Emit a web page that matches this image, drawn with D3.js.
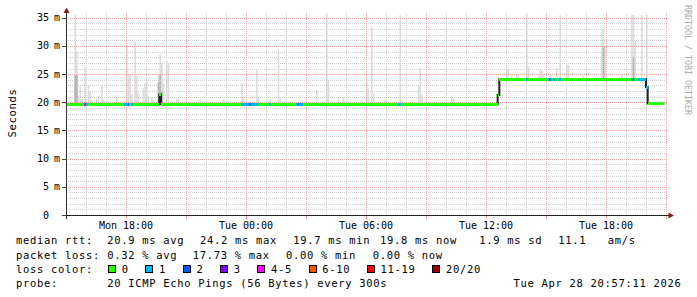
<!DOCTYPE html>
<html>
<head>
<meta charset="utf-8">
<script src="https://cdn.jsdelivr.net/npm/d3@7"></script>
<style>
  body { margin: 0; background: #fff; }
  svg { display: block; font-family: 'DejaVu Sans Mono', monospace; }
  .legend { font-size: 10.5px; letter-spacing: 0.68px; fill: #000; }
  .tick { font-size: 10px; fill: #000; }
</style>
</head>
<body>
<svg id="chart" width="697" height="297"></svg>
<script>
const parseTime = d3.timeParse('%Y-%m-%d %H:%M')
const at = s => parseTime('2026-04-' + s)

// time window of the graph and of the samples (5 minute steps)
const graphStart = '27 15:00'
const graphEnd = '28 21:00'
const firstSample = '27 15:00'
const lastSample = '28 20:50'

// median rtt in ms, as change points (value holds until next time)
const medianTimes = ['27 15:00', '27 19:40', '27 19:45', '28 12:35', '28 12:40', '28 20:00', '28 20:05']
const medianValues = [19.7, 21.4, 19.7, 21.3, 24.1, 22.7, 19.8]

// lost pings (of 20), as change points
const lossTimes = ['27 15:00', '27 15:55', '27 16:00', '27 16:05', '27 17:55', '27 18:05', '27 18:10',
  '27 18:15', '27 18:20', '27 23:45', '28 00:10', '28 00:15', '28 00:35', '28 01:10', '28 01:15',
  '28 02:30', '28 02:35', '28 02:40', '28 02:50', '28 07:35', '28 07:45', '28 14:00', '28 14:05',
  '28 15:05', '28 15:10', '28 15:15', '28 15:20', '28 15:30', '28 15:35', '28 15:45', '28 19:15',
  '28 19:20', '28 19:25', '28 19:35', '28 20:05']
const lossCounts = [0, 4, 1, 0, 1, 2, 0,
  1, 0, 1, 2, 1, 0, 1, 0,
  1, 2, 1, 0, 1, 0, 1, 0,
  1, 2, 0, 1, 0, 1, 0, 1,
  2, 0, 1, 0]

// smoke: slowest ping and second band (0 = none) for the steps that show any
const smokeTimes = ['27 15:25', '27 15:30', '27 15:35', '27 15:40', '27 15:45', '27 15:55', '27 16:05',
  '27 16:10', '27 16:15', '27 16:30', '27 16:35', '27 16:45', '27 16:50', '27 17:30', '27 18:00',
  '27 18:05', '27 18:10', '27 18:15', '27 18:25', '27 18:30', '27 18:35', '27 18:50', '27 18:55',
  '27 19:00', '27 19:05', '27 19:15', '27 19:20', '27 19:35', '27 19:40', '27 19:45', '27 19:50',
  '27 20:00', '27 20:05', '27 20:30', '27 20:35', '27 21:40', '27 22:50', '27 23:45', '27 23:50',
  '28 00:30', '28 00:35', '28 01:10', '28 01:35', '28 01:40', '28 03:30', '28 04:00', '28 04:05',
  '28 04:35', '28 04:50', '28 05:45', '28 06:00', '28 06:05', '28 06:15', '28 06:20', '28 06:55',
  '28 07:40', '28 07:45', '28 08:35', '28 08:40', '28 08:45', '28 10:15', '28 10:20', '28 13:00',
  '28 13:05', '28 13:15', '28 13:30', '28 13:35', '28 14:00', '28 14:05', '28 14:35', '28 14:40',
  '28 14:45', '28 14:50', '28 15:10', '28 15:30', '28 15:40', '28 16:00', '28 16:05', '28 16:50',
  '28 17:45', '28 17:50', '28 17:55', '28 18:45', '28 19:15', '28 19:20', '28 19:25', '28 19:45',
  '28 20:00', '28 20:05']
const smokeMax = [35.6, 29.0, 21.2, 22.8, 20.6, 26.2, 23.1,
  21.8, 20.4, 20.6, 21.1, 23.1, 20.5, 21.0, 30.2,
  25.0, 24.9, 21.5, 30.8, 24.7, 21.8, 22.6, 23.4,
  24.0, 21.1, 20.9, 20.5, 24.9, 28.5, 27.0, 23.5,
  27.3, 27.0, 20.6, 21.0, 20.5, 20.6, 23.4, 21.0,
  25.6, 21.0, 20.5, 29.4, 21.0, 22.3, 35.7, 24.0,
  21.0, 21.0, 20.5, 24.3, 22.5, 33.4, 21.7, 20.5,
  35.6, 20.4, 22.9, 26.1, 21.5, 21.0, 20.6, 25.9,
  25.9, 24.9, 24.9, 24.7, 35.7, 26.3, 24.7, 25.8,
  25.6, 25.0, 24.9, 26.1, 35.7, 26.7, 26.6, 24.8,
  32.9, 33.0, 29.8, 25.0, 35.6, 35.6, 31.0, 35.6,
  35.6, 21.0]
const smokeMid = [24.8, 24.8, 0, 0, 0, 0, 0,
  0, 0, 0, 0, 0, 0, 0, 0,
  0, 0, 0, 0, 0, 0, 0, 0,
  0, 0, 0, 0, 23.5, 24.9, 22.0, 0,
  0, 0, 0, 0, 0, 0, 0, 0,
  0, 0, 0, 0, 0, 0, 0, 0,
  0, 0, 0, 0, 0, 0, 0, 0,
  0, 0, 0, 0, 0, 0, 0, 0,
  0, 0, 0, 0, 0, 0, 0, 0,
  0, 0, 0, 0, 0, 0, 0, 0,
  0, 29.9, 0, 0, 0, 28.0, 0, 0,
  0, 0]

const lossLabels = ['0', '1', '2', '3', '4-5', '6-10', '11-19', '20/20']
const lossLimits = [0, 1, 2, 3, 5, 10, 19, 20]
const lossColors = ['#26ff00', '#00b8ff', '#0059ff', '#7e00ff', '#ff00ff', '#ff5500', '#ff0000', '#a10000']

const yTicks = [0, 5, 10, 15, 20, 25, 30, 35]

const rttStats = ['median rtt:', '20.9 ms avg', '24.2 ms max', '19.7 ms min', '19.8 ms now', '1.9 ms sd', '11.1', 'am/s']
const lossStats = ['packet loss:', '0.32 % avg', '17.73 % max', '0.00 % min', '0.00 % now']
const probeText = ['probe:', '20 ICMP Echo Pings (56 Bytes) every 300s']
const stampText = 'Tue Apr 28 20:57:11 2026'

// ---------------------------------------------------------------
const minorColor = '#cfcfcf'
const majorColor = '#eea3a3'
const arrowColor = '#801f1f'

const svg = d3.select('#chart')
const x = d3.scaleTime().domain([at(graphStart), at(graphEnd)]).range([66, 666])
const y = d3.scaleLinear().domain([0, 35.5]).range([215, 15])

const medT = medianTimes.map(at)
const lossT = lossTimes.map(at)
const lookup = (times, values, t) => values[d3.bisectRight(times, t) - 1]
const lossColor = n => lossColors[lossLimits.findIndex(l => n <= l)]

const steps = d3.timeMinute.every(5).range(at(firstSample), d3.timeMinute.offset(at(lastSample), 5))
  .map(t => ({ t: t, median: lookup(medT, medianValues, t), loss: lookup(lossT, lossCounts, t) }))
const smoke = smokeTimes.map((s, i) => {
  const t = at(s)
  return { t: t, max: smokeMax[i], mid: smokeMid[i], median: lookup(medT, medianValues, t) }
})
const stepEnd = t => d3.timeMinute.offset(t, 5)

svg.append('defs').append('clipPath').attr('id', 'plotclip')
  .append('rect').attr('x', 66).attr('y', 15).attr('width', 600).attr('height', 200)

// smoke
const smokeG = svg.append('g').attr('clip-path', 'url(#plotclip)')
smokeG.selectAll('rect.smoke')
  .data(smoke)
  .enter()
  .append('rect')
  .attr('class', 'smoke')
  .attr('x', d => x(d.t))
  .attr('width', d => x(stepEnd(d.t)) - x(d.t))
  .attr('y', d => y(d.max))
  .attr('height', d => y(d.median) - y(d.max))
  .attr('fill', '#dddddd')
smokeG.selectAll('rect.smokemid')
  .data(smoke.filter(d => d.mid > 0))
  .enter()
  .append('rect')
  .attr('class', 'smokemid')
  .attr('x', d => x(d.t))
  .attr('width', d => x(stepEnd(d.t)) - x(d.t))
  .attr('y', d => y(d.mid))
  .attr('height', d => y(d.median) - y(d.mid))
  .attr('fill', '#b4b4b4')

// grid
const grid = svg.append('g').attr('shape-rendering', 'crispEdges')
const minorY = d3.range(1, 36).filter(v => v % 5 !== 0)
grid.selectAll('line.hmin').data(minorY).enter().append('line')
  .attr('x1', 66).attr('x2', 668)
  .attr('y1', d => Math.round(y(d)) + 0.5).attr('y2', d => Math.round(y(d)) + 0.5)
  .attr('stroke', minorColor).attr('stroke-dasharray', '1,1')
const hours = d3.timeHour.range(d3.timeHour.offset(at(graphStart), 1), d3.timeHour.offset(at(graphEnd), 1))
grid.selectAll('line.vmin').data(hours.filter(h => h.getHours() % 3 !== 0)).enter().append('line')
  .attr('x1', d => Math.round(x(d)) + 0.5).attr('x2', d => Math.round(x(d)) + 0.5)
  .attr('y1', 13).attr('y2', 215)
  .attr('stroke', minorColor).attr('stroke-dasharray', '1,1')
grid.selectAll('line.hmaj').data(yTicks.slice(1)).enter().append('line')
  .attr('x1', 66).attr('x2', 668)
  .attr('y1', d => Math.round(y(d)) + 0.5).attr('y2', d => Math.round(y(d)) + 0.5)
  .attr('stroke', majorColor).attr('stroke-dasharray', '1,1')
const majorHours = hours.filter(h => h.getHours() % 3 === 0)
grid.selectAll('line.vmaj').data(majorHours).enter().append('line')
  .attr('x1', d => Math.round(x(d)) + 0.5).attr('x2', d => Math.round(x(d)) + 0.5)
  .attr('y1', 13).attr('y2', 215)
  .attr('stroke', majorColor).attr('stroke-dasharray', '1,1')
grid.selectAll('line.xtick').data(majorHours).enter().append('line')
  .attr('x1', d => Math.round(x(d)) + 0.5).attr('x2', d => Math.round(x(d)) + 0.5)
  .attr('y1', 216).attr('y2', 219)
  .attr('stroke', majorColor)

// median line: dark step line, then loss coloured band
const lineData = steps.concat([{ t: stepEnd(steps[steps.length - 1].t), median: steps[steps.length - 1].median }])
svg.append('path')
  .datum(lineData)
  .attr('fill', 'none')
  .attr('stroke', '#202020')
  .attr('stroke-width', 2)
  .attr('d', d3.line().x(d => x(d.t)).y(d => y(d.median)).curve(d3.curveStepAfter))
svg.append('g').attr('shape-rendering', 'crispEdges')
  .selectAll('rect')
  .data(steps)
  .enter()
  .append('rect')
  .attr('x', d => x(d.t))
  .attr('width', d => x(stepEnd(d.t)) - x(d.t))
  .attr('y', d => y(d.median) - 1.5)
  .attr('height', 3)
  .attr('fill', d => lossColor(d.loss))

// axes
const axes = svg.append('g').attr('shape-rendering', 'crispEdges')
axes.append('line').attr('x1', 66.5).attr('x2', 66.5).attr('y1', 12).attr('y2', 219).attr('stroke', '#333')
axes.append('line').attr('x1', 63).attr('x2', 670).attr('y1', 215.5).attr('y2', 215.5).attr('stroke', '#222')
axes.selectAll('line.ytick').data(yTicks).enter().append('line')
  .attr('x1', 62).attr('x2', 66)
  .attr('y1', d => Math.round(y(d)) + 0.5).attr('y2', d => Math.round(y(d)) + 0.5)
  .attr('stroke', '#444')
svg.append('path').attr('d', 'M63.5,13L69.5,13L66.5,7.5Z').attr('fill', arrowColor)
svg.append('path').attr('d', 'M668.5,212.5L668.5,218.5L674,215.5Z').attr('fill', arrowColor)

// tick labels
svg.selectAll('text.ylab').data(yTicks).enter().append('text')
  .attr('class', 'tick')
  .attr('x', 49).attr('y', d => y(d) + 3.5)
  .attr('text-anchor', 'end')
  .text(d => d)
svg.selectAll('text.yunit').data(yTicks.filter(v => v > 0)).enter().append('text')
  .attr('class', 'tick')
  .attr('x', 54).attr('y', d => y(d) + 3.5)
  .text('m')
const labelHours = hours.filter(h => h.getHours() % 6 === 0 && h < at(graphEnd))
svg.selectAll('text.xlab').data(labelHours).enter().append('text')
  .attr('class', 'tick')
  .attr('x', d => x(d)).attr('y', 229)
  .attr('text-anchor', 'middle')
  .text(d3.timeFormat('%a %H:%M'))

svg.append('text').attr('class', 'legend')
  .attr('transform', 'translate(15.5,113) rotate(-90)')
  .attr('text-anchor', 'middle')
  .text('Seconds')
svg.append('text')
  .attr('transform', 'translate(684.5,5) rotate(90)')
  .style('font-size', '8.3px').attr('fill', '#aaaaaa')
  .text('RRDTOOL / TOBI OETIKER')

// legend rows
const rows = [244.3, 258.5, 272.7, 286.8]
const rttX = [16, 107.3, 200, 293.3, 380, 479.3, 558.3, 607.7]
const lossX = [16, 107.3, 192.7, 286, 372.7]
const putRow = (texts, xs, yy) => {
  svg.selectAll(null).data(texts).enter().append('text')
    .attr('class', 'legend')
    .attr('x', (d, i) => xs[i]).attr('y', yy)
    .text(d => d)
}
putRow(rttStats, rttX, rows[0])
putRow(lossStats, lossX, rows[1])
putRow(['loss color:'], [16], rows[2])
putRow(probeText, [16, 107.3], rows[3])
svg.append('text').attr('class', 'legend')
  .attr('x', 681.5).attr('y', rows[3]).attr('text-anchor', 'end')
  .text(stampText)

let bx = 108.5
lossLabels.forEach((lab, i) => {
  svg.append('rect')
    .attr('x', bx).attr('y', 265.5).attr('width', 7).attr('height', 7)
    .attr('fill', lossColors[i]).attr('stroke', '#000').attr('stroke-width', 1)
    .attr('shape-rendering', 'crispEdges')
  svg.append('text').attr('class', 'legend')
    .attr('x', bx + 13.3).attr('y', rows[2])
    .text(lab)
  bx += 13.3 + lab.length * 7 + 17
})
</script>
</body>
</html>
